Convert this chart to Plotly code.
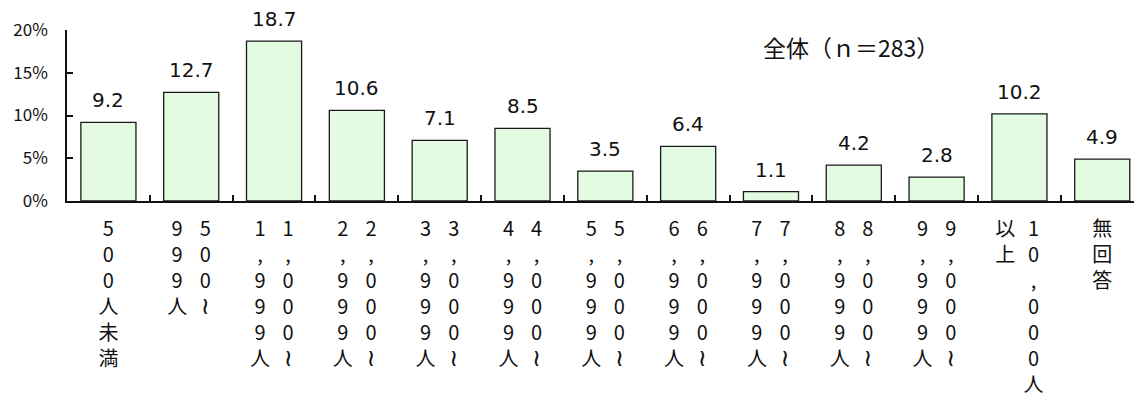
import plotly.graph_objects as go

categories = ["500人未満", "500～999人", "1,000～1,999人", "2,000～2,999人",
              "3,000～3,999人", "4,000～4,999人", "5,000～5,999人", "6,000～6,999人",
              "7,000～7,999人", "8,000～8,999人", "9,000～9,999人", "10,000人以上", "無回答"]
values = [9.2, 12.7, 18.7, 10.6, 7.1, 8.5, 3.5, 6.4, 1.1, 4.2, 2.8, 10.2, 4.9]
# vertical label columns (read right-to-left, as in the reference)
label_columns = [["500人未満"], ["500～", "999人"], ["1,000～", "1,999人"], ["2,000～", "2,999人"],
                 ["3,000～", "3,999人"], ["4,000～", "4,999人"], ["5,000～", "5,999人"],
                 ["6,000～", "6,999人"], ["7,000～", "7,999人"], ["8,000～", "8,999人"],
                 ["9,000～", "9,999人"], ["10,000人", "以上"], ["無回答"]]
y_ticks = [0, 5, 10, 15, 20]
title_text = "全体（ｎ＝283）"

FONT = "Noto Sans CJK JP"
x = list(range(len(categories)))

def vertical(s):
    out = []
    for ch in s:
        if ch == "～":
            out.append("<span style='font-family:DejaVu Sans;font-size:24px'>≀</span>")
        else:
            out.append(ch)
    return "<br>".join(out)

tickvals, ticktext = [], []
for i, cols in enumerate(label_columns):
    if len(cols) == 1:
        tickvals.append(i); ticktext.append(vertical(cols[0]))
    else:
        tickvals.append(i + 0.17); ticktext.append(vertical(cols[0]))
        tickvals.append(i - 0.17); ticktext.append(vertical(cols[1]))

fig = go.Figure()
fig.add_trace(go.Bar(
    x=x, y=values, width=0.665,
    marker=dict(color="#E3FBE0", line=dict(color="#1a1a1a", width=1.3)),
    hovertext=categories, showlegend=False,
))
for xi, v in zip(x, values):
    fig.add_annotation(x=xi, y=v, text=f"{v:.1f}", showarrow=False,
                       yanchor="middle", yshift=22,
                       font=dict(family="DejaVu Sans", size=20, color="#111111"))
fig.add_annotation(xref="paper", yref="y", x=0.729, y=18.0, text=title_text,
                   xanchor="center", yanchor="middle", showarrow=False,
                   font=dict(family=FONT, size=23, color="#111111"))

# page body has an 8px margin: the figure is shifted by (8, 8)
fig.update_layout(
    width=1134, height=392,
    margin=dict(l=59, r=0, t=22, b=199),
    plot_bgcolor="white", paper_bgcolor="white",
    font=dict(family=FONT, color="#111111"),
    bargap=0.33,
)
fig.update_xaxes(
    range=[-0.5, 12.48], tickmode="array", tickvals=tickvals, ticktext=ticktext,
    ticks="", showline=True, linecolor="#111111", linewidth=1.5,
    showgrid=False, zeroline=False, tickangle=0, automargin=False,
    tickfont=dict(family=FONT, size=20, color="#111111"),
    ticklabelstandoff=9,
    minor=dict(tickvals=[i + 0.5 for i in x[:-1]], ticks="inside", ticklen=6,
               tickcolor="#111111", tickwidth=1.5, showgrid=False),
)
fig.update_yaxes(
    range=[0, 20], tickvals=y_ticks, ticktext=[f"{t}%" for t in y_ticks],
    ticks="inside", ticklen=6, tickcolor="#111111", tickwidth=1.5,
    showline=True, linecolor="#111111", linewidth=1.5,
    showgrid=False, zeroline=False, automargin=False,
    tickfont=dict(family=FONT, size=17, color="#111111"),
    ticklabelstandoff=14,
)
fig.write_html("out.html")
